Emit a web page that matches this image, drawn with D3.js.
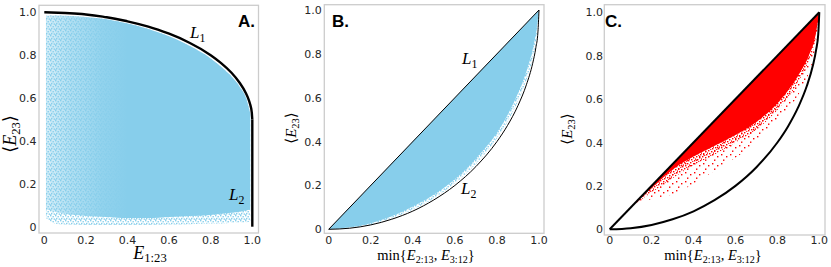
<!DOCTYPE html>
<html>
<head>
<meta charset="utf-8">
<script src="https://cdn.jsdelivr.net/npm/d3@7"></script>
<style>
  body { margin: 0; background: #fff; }
  .tick { font-family: "DejaVu Sans", sans-serif; font-size: 11px; fill: #262626; }
  .math { font-family: "Liberation Serif", "DejaVu Serif", serif; }
  .panel-tag { font-family: "Liberation Sans", Arial, sans-serif; font-weight: bold; font-size: 17px; }
</style>
</head>
<body>
<div id="chart"></div>
<script>
// tick values / labels (same for all three panels)
var tickValues = [0, 0.2, 0.4, 0.6, 0.8, 1.0];
var tickLabels = ['0', '0.2', '0.4', '0.6', '0.8', '1.0'];

// boundary curves
var arcX = [0, 0.1, 0.2, 0.3, 0.4, 0.5, 0.6, 0.7, 0.8, 0.85, 0.9, 0.94, 0.97, 0.985, 0.995, 1];
var l1aY = [1, 0.997, 0.99, 0.977, 0.958, 0.933, 0.9, 0.857, 0.8, 0.763, 0.718, 0.67, 0.621, 0.586, 0.55, 0.5];
var l2aX = [1, 1];
var l2aY = [0.5, 0];
var l1bX = [0, 1];
var l1bY = [0, 1];
var l2bY = [0, 0.005, 0.02, 0.046, 0.083, 0.134, 0.2, 0.286, 0.4, 0.473, 0.564, 0.659, 0.757, 0.828, 0.9, 1];

// panel A cloud (x, top, dense bottom, outer bottom)
var cloudAX = [0.008, 0.05, 0.1, 0.2, 0.3, 0.4, 0.5, 0.6, 0.7, 0.8, 0.85, 0.9, 0.94, 0.97, 0.99];
var cloudATop = [0.985, 0.985, 0.984, 0.978, 0.968, 0.948, 0.922, 0.888, 0.843, 0.785, 0.746, 0.7, 0.652, 0.6, 0.53];
var cloudADense = [0.08, 0.07, 0.06, 0.05, 0.045, 0.04, 0.04, 0.045, 0.05, 0.055, 0.06, 0.065, 0.07, 0.075, 0.08];
var cloudABottom = [0.04, 0.015, 0.01, 0.008, 0.008, 0.008, 0.008, 0.01, 0.012, 0.015, 0.015, 0.018, 0.02, 0.02, 0.025];

// panel B cloud
var cloudBX = [0, 0.1, 0.2, 0.3, 0.4, 0.5, 0.6, 0.7, 0.8, 0.85, 0.9, 0.94, 0.97, 0.985, 1];
var cloudBTop = [0, 0.1, 0.2, 0.3, 0.4, 0.5, 0.6, 0.7, 0.8, 0.85, 0.9, 0.94, 0.97, 0.985, 1];
var cloudBDense = [0, 0.009, 0.028, 0.06, 0.104, 0.158, 0.228, 0.322, 0.44, 0.52, 0.62, 0.72, 0.82, 0.89, 1];
var cloudBBottom = [0, 0.006, 0.022, 0.05, 0.09, 0.142, 0.21, 0.298, 0.415, 0.49, 0.585, 0.68, 0.78, 0.85, 1];

// panel C cloud (dense core, thinner fringe, sparse outliers)
var cloudCX = [0.12, 0.2, 0.3, 0.4, 0.5, 0.6, 0.7, 0.8, 0.9, 0.95, 0.98, 1];
var cloudCTop = [0.12, 0.2, 0.3, 0.4, 0.5, 0.6, 0.7, 0.8, 0.9, 0.95, 0.98, 1];
var cloudCDense = [0.12, 0.19, 0.275, 0.335, 0.385, 0.435, 0.495, 0.58, 0.71, 0.8, 0.885, 1];
var cloudCMid = [0.118, 0.17, 0.235, 0.295, 0.345, 0.4, 0.46, 0.55, 0.68, 0.775, 0.865, 1];
var cloudCBottom = [0.115, 0.14, 0.16, 0.21, 0.27, 0.33, 0.4, 0.5, 0.62, 0.72, 0.83, 1];

(function() {
  var W = 831, H = 267;
  var blue = '#87ceeb', red = '#ff0000';

  var svg = d3.select('#chart').append('svg')
    .attr('width', W).attr('height', H);
  var defs = svg.append('defs');

  // scatter-like dot patterns for the thin edges of the clouds
  function dotPattern(id, size, color, dots) {
    var pat = defs.append('pattern').attr('id', id)
      .attr('patternUnits', 'userSpaceOnUse')
      .attr('width', size).attr('height', size);
    dots.forEach(function(d) {
      pat.append('rect').attr('x', d[0]).attr('y', d[1])
        .attr('width', 1.4).attr('height', 1.4).attr('fill', color);
    });
  }
  dotPattern('redDense', 6, red, [[0, 0], [3, 1], [1, 3], [4, 4], [2, 5.2], [5, 2.4]]);
  dotPattern('redSparse', 9, red, [[1, 1], [6, 3], [3, 6.5]]);
  dotPattern('blueDots', 5, blue, [[0, 0], [2.5, 1], [1, 2.8], [3.6, 3.4], [0.2, 4.2]]);

  // panel geometry
  var panels = [
    { id: 'A', xr: [44.3, 252.3], yr: [226.7, 12.3], box: [39, 5.3, 258.5, 233], tickRight: 36.5, xTickY: 243.5 },
    { id: 'B', xr: [328.7, 539], yr: [229.3, 10], box: [324.3, 4.7, 544, 233.3], tickRight: 321.7, xTickY: 244 },
    { id: 'C', xr: [609.7, 819.3], yr: [229.3, 12.3], box: [604.3, 4.7, 825, 235], tickRight: 603, xTickY: 244 }
  ];

  panels.forEach(function(p) {
    p.x = d3.scaleLinear().domain([0, 1]).range(p.xr);
    p.y = d3.scaleLinear().domain([0, 1]).range(p.yr);
    p.g = svg.append('g');
  });

  function zip(xs, ys) {
    return xs.map(function(v, i) { return [v, ys[i]]; });
  }

  function band(p, xs, y0s, y1s) {
    return d3.area()
      .x(function(d) { return p.x(d[0]); })
      .y0(function(d) { return p.y(d[1]); })
      .y1(function(d) { return p.y(d[2]); })
      .curve(d3.curveMonotoneX)(xs.map(function(v, i) { return [v, y0s[i], y1s[i]]; }));
  }

  function line(p, pts, curve) {
    return d3.line()
      .x(function(d) { return p.x(d[0]); })
      .y(function(d) { return p.y(d[1]); })
      .curve(curve || d3.curveLinear)(pts);
  }

  // frames
  panels.forEach(function(p) {
    p.g.append('rect')
      .attr('x', p.box[0]).attr('y', p.box[1])
      .attr('width', p.box[2] - p.box[0]).attr('height', p.box[3] - p.box[1])
      .attr('fill', 'none').attr('stroke', '#cccccc').attr('stroke-width', 1.3);
  });

  // ---- Panel A ----
  var A = panels[0];
  var gradA = defs.append('linearGradient').attr('id', 'gradA')
    .attr('gradientUnits', 'userSpaceOnUse')
    .attr('x1', A.x(0)).attr('x2', A.x(0.4)).attr('y1', 0).attr('y2', 0);
  gradA.append('stop').attr('offset', 0).attr('stop-color', blue).attr('stop-opacity', 0.3);
  gradA.append('stop').attr('offset', 0.3).attr('stop-color', blue).attr('stop-opacity', 0.62);
  gradA.append('stop').attr('offset', 0.7).attr('stop-color', blue).attr('stop-opacity', 0.9);
  gradA.append('stop').attr('offset', 1).attr('stop-color', blue).attr('stop-opacity', 1);

  A.g.append('path').attr('d', band(A, cloudAX, cloudABottom, cloudATop))
    .attr('fill', 'url(#blueDots)');
  A.g.append('path').attr('d', band(A, cloudAX, cloudADense, cloudATop))
    .attr('fill', 'url(#gradA)');
  A.g.append('path').attr('d', line(A, zip(arcX, l1aY), d3.curveMonotoneY))
    .attr('fill', 'none').attr('stroke', '#000').attr('stroke-width', 2.4);
  A.g.append('path').attr('d', line(A, zip(l2aX, l2aY)))
    .attr('fill', 'none').attr('stroke', '#000').attr('stroke-width', 2.4);

  // ---- Panel B ----
  var B = panels[1];
  B.g.append('path').attr('d', band(B, cloudBX, cloudBBottom, cloudBTop))
    .attr('fill', 'url(#blueDots)');
  B.g.append('path').attr('d', band(B, cloudBX, cloudBDense, cloudBTop))
    .attr('fill', blue);
  B.g.append('path').attr('d', line(B, zip(l1bX, l1bY)))
    .attr('fill', 'none').attr('stroke', '#000').attr('stroke-width', 1);
  B.g.append('path').attr('d', line(B, zip(arcX, l2bY), d3.curveMonotoneX))
    .attr('fill', 'none').attr('stroke', '#000').attr('stroke-width', 1);

  // ---- Panel C ----
  var C = panels[2];
  C.g.append('path').attr('d', band(C, cloudCX, cloudCBottom, cloudCTop))
    .attr('fill', 'url(#redSparse)');
  C.g.append('path').attr('d', band(C, cloudCX, cloudCMid, cloudCTop))
    .attr('fill', 'url(#redDense)');
  C.g.append('path').attr('d', band(C, cloudCX, cloudCDense, cloudCTop))
    .attr('fill', red);
  C.g.append('path').attr('d', line(C, zip(l1bX, l1bY)))
    .attr('fill', 'none').attr('stroke', '#000').attr('stroke-width', 2);
  C.g.append('path').attr('d', line(C, zip(arcX, l2bY), d3.curveMonotoneX))
    .attr('fill', 'none').attr('stroke', '#000').attr('stroke-width', 2);

  // tick labels
  panels.forEach(function(p) {
    p.g.selectAll('.xt').data(tickValues).enter().append('text')
      .attr('class', 'tick').attr('text-anchor', 'middle')
      .attr('x', function(d) { return p.x(d); })
      .attr('y', p.xTickY)
      .text(function(d, i) { return tickLabels[i]; });
    p.g.selectAll('.yt').data(tickValues).enter().append('text')
      .attr('class', 'tick').attr('text-anchor', 'end')
      .attr('x', p.tickRight)
      .attr('y', function(d) { return p.y(d) + 4; })
      .text(function(d, i) { return tickLabels[i]; });
  });

  // math-ish labels: parts = [[text, isSub, italic]]
  function mathText(g, x, y, size, parts, anchor, rotate) {
    var t = g.append('text').attr('class', 'math')
      .attr('font-size', size).attr('text-anchor', anchor || 'middle');
    if (rotate) t.attr('transform', 'translate(' + x + ',' + y + ') rotate(-90)');
    else t.attr('x', x).attr('y', y);
    var shifted = false;
    parts.forEach(function(q) {
      var s = t.append('tspan').text(q[0]);
      if (q[2]) s.attr('font-style', 'italic');
      if (q[1] && !shifted) { s.attr('dy', size * 0.22).attr('font-size', size * 0.7); shifted = true; }
      else if (q[1]) { s.attr('font-size', size * 0.7); }
      else if (shifted) { s.attr('dy', -size * 0.22); shifted = false; }
    });
    return t;
  }

  // x labels
  mathText(A.g, 150, 258.5, 18, [['E', 0, 1], ['1:23', 1, 0]]);
  var minParts = [['min{', 0, 0], ['E', 0, 1], ['2:13', 1, 0], [', ', 0, 0], ['E', 0, 1], ['3:12', 1, 0], ['}', 0, 0]];
  mathText(B.g, 426, 259.5, 14.5, minParts);
  mathText(C.g, 713, 259.5, 14.5, minParts);

  // y labels
  var yParts = [['\u27e8', 0, 0], ['E', 0, 1], ['23', 1, 0], ['\u27e9', 0, 0]];
  mathText(A.g, 16, 134, 18, yParts, 'middle', true);
  mathText(B.g, 296, 128, 15, yParts, 'middle', true);
  mathText(C.g, 572, 129, 15, yParts, 'middle', true);

  // curve labels
  mathText(A.g, 190, 38, 17, [['L', 0, 1], ['1', 1, 0]], 'start');
  mathText(A.g, 229, 200, 17, [['L', 0, 1], ['2', 1, 0]], 'start');
  mathText(B.g, 462, 64, 17, [['L', 0, 1], ['1', 1, 0]], 'start');
  mathText(B.g, 461, 194, 17, [['L', 0, 1], ['2', 1, 0]], 'start');

  // panel tags
  svg.append('text').attr('class', 'panel-tag').attr('x', 238).attr('y', 27).text('A.');
  svg.append('text').attr('class', 'panel-tag').attr('x', 332).attr('y', 27).text('B.');
  svg.append('text').attr('class', 'panel-tag').attr('x', 605).attr('y', 27).text('C.');
})();
</script>
</body>
</html>
